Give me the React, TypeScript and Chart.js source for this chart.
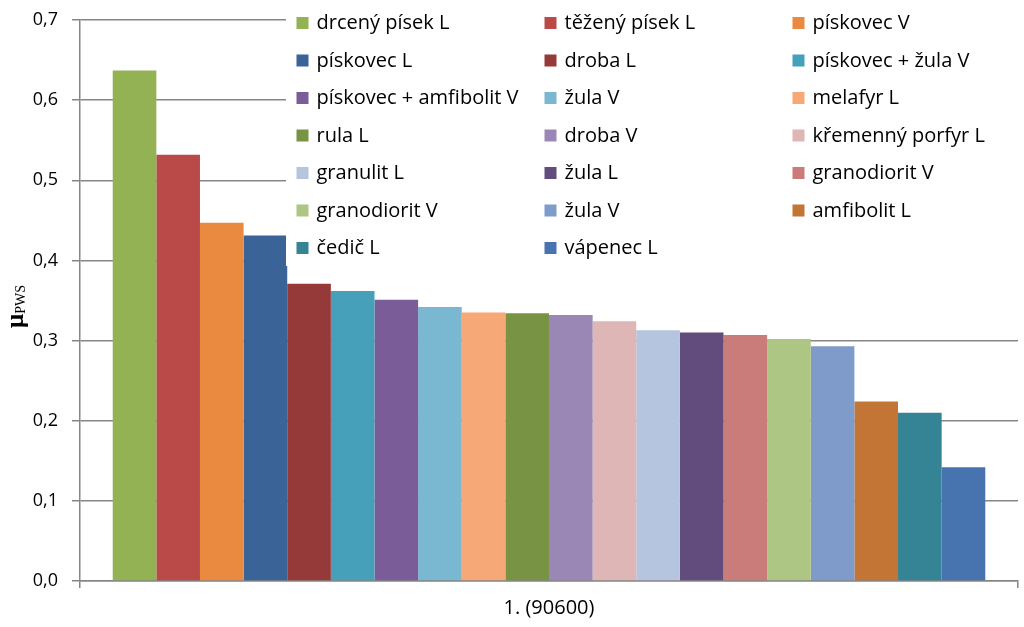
import React, { useEffect, useRef } from "react";
import { Chart, registerables } from "chart.js";

Chart.register(...registerables);

const categories = ["1. (90600)"];

const seriesNames = [
  "drcený písek L",
  "těžený písek L",
  "pískovec V",
  "pískovec L",
  "droba L",
  "pískovec + žula V",
  "pískovec + amfibolit V",
  "žula V",
  "melafyr L",
  "rula L",
  "droba V",
  "křemenný porfyr L",
  "granulit L",
  "žula L",
  "granodiorit V",
  "granodiorit V",
  "žula V",
  "amfibolit L",
  "čedič L",
  "vápenec L",
];

const seriesValues = [
  0.637, 0.532, 0.447, 0.431, 0.371, 0.362, 0.351, 0.342, 0.335, 0.334,
  0.332, 0.324, 0.313, 0.31, 0.307, 0.302, 0.293, 0.224, 0.21, 0.142,
];

const seriesColors = [
  "#93B253",
  "#BA4A47",
  "#EA8A40",
  "#3A6397",
  "#953A38",
  "#46A0B9",
  "#7A5D98",
  "#79B8D0",
  "#F7A877",
  "#789344",
  "#9B87B5",
  "#DEB6B5",
  "#B6C5DF",
  "#624B7D",
  "#C97C7A",
  "#ADC684",
  "#7E9BC9",
  "#C27534",
  "#358495",
  "#4774AE",
];

const yMin = 0;
const yMax = 0.7;
const yStep = 0.1;

const GRID = "#868686";
const FONT = "'Open Sans', 'Noto Sans', sans-serif";

const legendPlugin = {
  id: "excelLegend",
  afterDraw(chart: any) {
    const ctx = chart.ctx;
    ctx.save();
    ctx.fillStyle = "#ffffff";
    ctx.fillRect(286, 0, chart.chartArea.right - 286, 266);
    ctx.font = `20px ${FONT}`;
    ctx.textBaseline = "alphabetic";
    ctx.textAlign = "left";
    seriesNames.forEach((name, i) => {
      const row = Math.floor(i / 3);
      const col = i % 3;
      const x = 296.5 + col * 248;
      const cy = 23 + row * 37.5;
      ctx.fillStyle = seriesColors[i];
      ctx.fillRect(x, cy - 6, 12, 12);
      ctx.fillStyle = "#000000";
      ctx.fillText(name, x + 20, cy + 6);
    });
    ctx.restore();
  },
};

const titlePlugin = {
  id: "yTitle",
  afterDraw(chart: any) {
    const ctx = chart.ctx;
    ctx.save();
    const cy = (chart.chartArea.top + chart.chartArea.bottom) / 2 + 6;
    ctx.translate(23, cy);
    ctx.rotate(-Math.PI / 2);
    const f1 = "bold 25px 'Liberation Serif', 'DejaVu Serif', serif";
    const f2 = "14px 'Liberation Serif', 'DejaVu Serif', serif";
    ctx.font = f1;
    const w1 = ctx.measureText("μ").width;
    ctx.font = f2;
    const w2 = ctx.measureText("PWS").width;
    const start = -(w1 + w2) / 2;
    ctx.fillStyle = "#000000";
    ctx.textBaseline = "alphabetic";
    ctx.font = f1;
    ctx.fillText("μ", start, 0);
    ctx.font = f2;
    ctx.fillText("PWS", start + w1, 2);
    ctx.restore();
  },
};

export default function App() {
  const ref = useRef<HTMLCanvasElement | null>(null);

  useEffect(() => {
    if (!ref.current) return;
    const chart = new Chart(ref.current, {
      type: "bar",
      data: {
        labels: categories,
        datasets: seriesNames.map((name, i) => ({
          label: name,
          data: [seriesValues[i]],
          backgroundColor: seriesColors[i],
          borderWidth: 0,
          categoryPercentage: 20 / 21.5,
          barPercentage: 1,
        })),
      },
      options: {
        responsive: false,
        animation: false,
        devicePixelRatio: 1,
        layout: { padding: { left: 0, right: 6, top: 20, bottom: 0 } },
        plugins: {
          legend: { display: false },
          tooltip: { enabled: false },
          title: { display: false },
        },
        scales: {
          x: {
            type: "category",
            offset: true,
            afterFit: (s: any) => {
              s.height = 46;
              s.paddingLeft = 0;
              s.paddingRight = 0;
            },
            grid: {
              offset: true,
              drawOnChartArea: false,
              drawTicks: true,
              tickLength: 7,
              color: GRID,
              lineWidth: 1.5,
            },
            border: { display: true, color: GRID, width: 1.5 },
            ticks: {
              font: { family: FONT, size: 20 },
              color: "#000000",
              padding: 8,
            },
          },
          y: {
            min: yMin,
            max: yMax,
            afterFit: (s: any) => {
              s.width = 80;
              s.paddingTop = 0;
              s.paddingBottom = 0;
            },
            grid: {
              color: GRID,
              lineWidth: 1.5,
              drawTicks: true,
              tickLength: 8,
            },
            border: { display: true, color: GRID, width: 1.5 },
            ticks: {
              stepSize: yStep,
              font: { family: FONT, size: 18 },
              color: "#000000",
              padding: 14,
              callback: (v: any) => Number(v).toFixed(1).replace(".", ","),
            },
          },
        },
      },
      plugins: [legendPlugin, titlePlugin],
    });
    return () => chart.destroy();
  }, []);

  return (
    <div style={{ position: "absolute", left: 0, top: 0, width: 1024, height: 627 }}>
      <canvas ref={ref} width={1024} height={627} />
    </div>
  );
}
